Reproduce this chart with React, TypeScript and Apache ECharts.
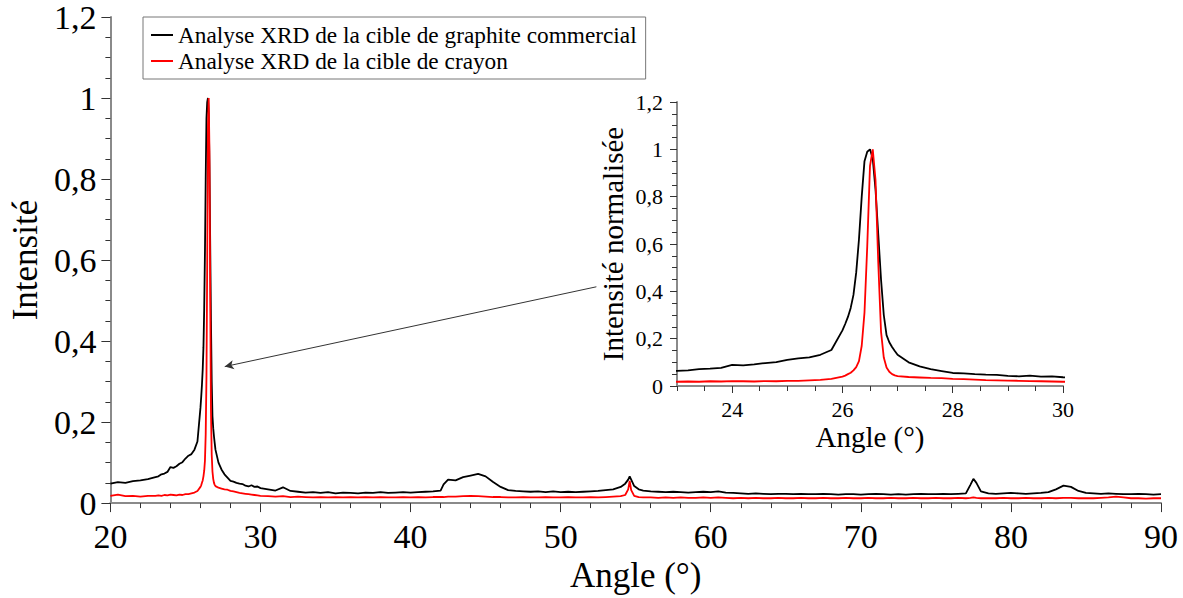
import React, { useEffect, useRef } from "react";
import * as echarts from "echarts";

const FONT = '"Liberation Serif", "Times New Roman", Times, serif';

const seriesNames = [
  "Analyse XRD de la cible de graphite commercial",
  "Analyse XRD de la cible de crayon",
];

const angles = [
  20, 20.5, 21, 21.5, 22, 22.5,
  23, 23.2, 23.4, 23.6, 23.8, 24, 24.2, 24.4, 24.6, 24.8, 25, 25.2, 25.4, 25.6, 25.8,
  26, 26.05, 26.1, 26.15, 26.2, 26.25, 26.3, 26.35, 26.4, 26.45,
  26.5, 26.55, 26.6, 26.65, 26.7, 26.75, 26.8, 26.85, 26.9, 26.95,
  27, 27.2, 27.4, 27.6, 27.8, 28, 28.2, 28.4, 28.6, 28.8, 29, 29.2, 29.4, 29.6, 29.8,
  30, 30.5, 31, 31.5, 32, 32.5, 33, 33.5, 34, 34.5,
  35, 35.5, 36, 36.5, 37, 37.5, 38, 38.5, 39, 39.5,
  40, 40.5, 41, 41.5,
  42, 42.2, 42.5, 43, 43.5, 44, 44.5, 45, 45.5, 46, 46.5, 47, 47.5, 48, 48.5,
  49, 49.5, 50, 50.5, 51, 51.5, 52, 52.5, 53, 53.5,
  54, 54.3, 54.5, 54.6, 54.7, 54.9, 55.2, 55.5,
  56, 56.5, 57, 57.5, 58, 58.5, 59, 59.5, 60, 60.5,
  61, 61.5, 62, 62.5, 63, 63.5, 64, 64.5, 65, 65.5,
  66, 66.5, 67, 67.5, 68, 68.5, 69, 69.5, 70, 70.5,
  71, 71.5, 72, 72.5, 73, 73.5, 74, 74.5, 75, 75.5,
  76, 76.5,
  77, 77.3, 77.5, 77.7,
  78, 78.5, 79, 79.5, 80, 80.5, 81, 81.5, 82, 82.5,
  83, 83.5, 84, 84.5, 85, 85.5, 86, 86.5, 87, 87.5,
  88, 88.5, 89, 89.5, 90,
];

const graphiteIntensity = [
  0.048, 0.052, 0.050, 0.054, 0.056, 0.059,
  0.064, 0.066, 0.071, 0.073, 0.077, 0.089, 0.087, 0.091, 0.097, 0.101, 0.110, 0.117, 0.121, 0.132, 0.152,
  0.235, 0.262, 0.292, 0.330, 0.385, 0.480, 0.620, 0.800, 0.950, 0.990,
  1.000, 0.960, 0.830, 0.640, 0.450, 0.300, 0.215, 0.185, 0.165, 0.148,
  0.132, 0.100, 0.083, 0.071, 0.063, 0.055, 0.053, 0.050, 0.048, 0.047, 0.043, 0.041, 0.044, 0.040, 0.041,
  0.037, 0.034, 0.031, 0.039, 0.030, 0.028, 0.026, 0.027, 0.025, 0.027,
  0.024, 0.026, 0.025, 0.024, 0.026, 0.025, 0.027, 0.025, 0.026, 0.027,
  0.026, 0.027, 0.028, 0.029,
  0.031, 0.046, 0.058, 0.056, 0.064, 0.068, 0.072, 0.066, 0.052, 0.040, 0.032, 0.030, 0.029, 0.028, 0.029,
  0.027, 0.029, 0.027, 0.028, 0.027, 0.028, 0.029, 0.030, 0.032, 0.034,
  0.040, 0.048, 0.058, 0.066, 0.058, 0.042, 0.034, 0.031,
  0.029, 0.028, 0.027, 0.028, 0.027, 0.026, 0.027, 0.028, 0.027, 0.029,
  0.026, 0.025, 0.024, 0.023, 0.024, 0.023, 0.022, 0.023, 0.023, 0.022,
  0.023, 0.022, 0.022, 0.023, 0.022, 0.021, 0.022, 0.022, 0.021, 0.022,
  0.023, 0.022, 0.021, 0.022, 0.021, 0.022, 0.023, 0.022, 0.022, 0.023,
  0.022, 0.023,
  0.024, 0.045, 0.060, 0.050,
  0.029, 0.024, 0.023, 0.024, 0.025, 0.024, 0.023, 0.024, 0.025, 0.027,
  0.034, 0.043, 0.040, 0.030, 0.025, 0.024, 0.023, 0.024, 0.023, 0.022,
  0.022, 0.023, 0.022, 0.021, 0.022,
];

const pencilIntensity = [
  0.018, 0.021, 0.017, 0.018, 0.016, 0.018,
  0.018, 0.019, 0.018, 0.020, 0.019, 0.021, 0.020, 0.019, 0.021, 0.020, 0.022, 0.022, 0.024, 0.026, 0.030,
  0.040, 0.044, 0.050, 0.056, 0.066, 0.080, 0.105, 0.170, 0.310, 0.590,
  0.930, 1.000, 0.870, 0.520, 0.230, 0.120, 0.078, 0.060, 0.050, 0.045,
  0.042, 0.038, 0.036, 0.034, 0.033, 0.030, 0.029, 0.027, 0.025, 0.024, 0.023, 0.022, 0.021, 0.020, 0.019,
  0.018, 0.017, 0.016, 0.017, 0.015, 0.016, 0.015, 0.014, 0.015, 0.014,
  0.015, 0.014, 0.015, 0.014, 0.015, 0.014, 0.015, 0.014, 0.014, 0.015,
  0.014, 0.015, 0.014, 0.015,
  0.015, 0.015, 0.016, 0.016, 0.017, 0.018, 0.017, 0.016, 0.015, 0.015, 0.014, 0.014, 0.015, 0.014, 0.014,
  0.015, 0.014, 0.014, 0.015, 0.014, 0.014, 0.015, 0.014, 0.015, 0.016,
  0.017, 0.020, 0.034, 0.055, 0.032, 0.018, 0.015, 0.014,
  0.014, 0.013, 0.014, 0.013, 0.014, 0.013, 0.013, 0.014, 0.013, 0.014,
  0.013, 0.012, 0.013, 0.012, 0.013, 0.012, 0.012, 0.013, 0.012, 0.012,
  0.013, 0.012, 0.012, 0.013, 0.012, 0.012, 0.013, 0.012, 0.012, 0.013,
  0.012, 0.012, 0.013, 0.012, 0.012, 0.013, 0.012, 0.012, 0.013, 0.012,
  0.012, 0.013,
  0.012, 0.013, 0.014, 0.013,
  0.012, 0.012, 0.012, 0.013, 0.012, 0.012, 0.013, 0.012, 0.012, 0.013,
  0.012, 0.013, 0.013, 0.012, 0.012, 0.012, 0.013, 0.014, 0.016, 0.014,
  0.012, 0.012, 0.011, 0.012, 0.012,
];

const mainXTicks = { min: 20, max: 90, interval: 10 };
const insetXMajor = [24, 26, 28, 30];
const insetXMinor = [23, 23.5, 24.5, 25, 25.5, 26.5, 27, 27.5, 28.5, 29, 29.5];
const yTicks = { min: 0, max: 1.2, interval: 0.2 };

// arrow annotation (data coordinates of main plot)
const arrowFrom = [52.38, 0.534];
const arrowTo = [27.62, 0.337];

const fmtY = (v: number) => String(Number(v.toFixed(1))).replace(".", ",");

export default function App() {
  const ref = useRef<HTMLDivElement>(null);

  useEffect(() => {
    document.body.style.margin = "0";
    const chart = echarts.init(ref.current!, null, { renderer: "svg" });
    const black = angles.map((a, i) => [a, graphiteIntensity[i]]);
    const red = angles.map((a, i) => [a, pencilIntensity[i]]);

    const axisLine = { show: true, onZero: false, lineStyle: { color: "#8a8a8a", width: 2 } };
    const tickStyle = { color: "#333", width: 1 };

    const option: any = {
      animation: false,
      backgroundColor: "#ffffff",
      grid: [
        { left: 104, right: 22, top: 17, bottom: 90 },
        { left: 677, right: 120, top: 102, bottom: 212 },
      ],
      legend: {
        orient: "vertical",
        left: 143,
        top: 17,
        data: seriesNames,
        icon: "rect",
        itemWidth: 22,
        itemHeight: 2,
        itemGap: 0,
        padding: [5, 9, 5, 8],
        borderColor: "#777",
        borderWidth: 1,
        backgroundColor: "#fff",
        textStyle: { fontFamily: FONT, fontSize: 23.3, color: "#000", lineHeight: 26 },
      },
      xAxis: [
        {
          gridIndex: 0,
          type: "value",
          position: "bottom",
          min: mainXTicks.min,
          max: mainXTicks.max,
          interval: mainXTicks.interval,
          name: "Angle (°)",
          nameLocation: "middle",
          nameGap: 50,
          nameTextStyle: { fontFamily: FONT, fontSize: 35, color: "#000" },
          axisLine,
          axisTick: { show: true, length: 9, lineStyle: tickStyle },
          minorTick: { show: true, splitNumber: 5, length: 5, lineStyle: tickStyle },
          axisLabel: { fontFamily: FONT, fontSize: 34, color: "#000", margin: 16 },
          splitLine: { show: false },
        },
        {
          gridIndex: 1,
          type: "value",
          position: "bottom",
          min: 23,
          max: 30,
          name: "Angle (°)",
          nameLocation: "middle",
          nameGap: 36,
          nameTextStyle: { fontFamily: FONT, fontSize: 29, color: "#000" },
          axisLine,
          axisTick: { show: true, length: 7, customValues: insetXMajor, lineStyle: tickStyle },
          axisLabel: { fontFamily: FONT, fontSize: 22, color: "#000", margin: 12, customValues: insetXMajor },
          splitLine: { show: false },
        },
        {
          gridIndex: 1,
          type: "value",
          position: "bottom",
          min: 23,
          max: 30,
          axisLine: { show: false, onZero: false },
          axisTick: { show: true, length: 5, customValues: insetXMinor, lineStyle: tickStyle },
          axisLabel: { show: false },
          splitLine: { show: false },
        },
      ],
      yAxis: [
        {
          gridIndex: 0,
          type: "value",
          min: yTicks.min,
          max: yTicks.max,
          interval: yTicks.interval,
          name: "Intensité",
          nameLocation: "middle",
          nameGap: 62,
          nameTextStyle: { fontFamily: FONT, fontSize: 35, color: "#000" },
          axisLine,
          axisTick: { show: true, length: 9, lineStyle: tickStyle },
          minorTick: { show: true, splitNumber: 4, length: 5, lineStyle: tickStyle },
          axisLabel: { fontFamily: FONT, fontSize: 34, color: "#000", margin: 14, formatter: fmtY },
          splitLine: { show: false },
        },
        {
          gridIndex: 1,
          type: "value",
          min: yTicks.min,
          max: yTicks.max,
          interval: yTicks.interval,
          name: "Intensité normalisée",
          nameLocation: "middle",
          nameGap: 50,
          nameTextStyle: { fontFamily: FONT, fontSize: 29, color: "#000" },
          axisLine,
          axisTick: { show: true, length: 7, lineStyle: tickStyle },
          minorTick: { show: true, splitNumber: 4, length: 5, lineStyle: tickStyle },
          axisLabel: { fontFamily: FONT, fontSize: 22, color: "#000", margin: 14, formatter: fmtY },
          splitLine: { show: false },
        },
      ],
      series: [
        {
          name: seriesNames[0],
          type: "line",
          xAxisIndex: 0,
          yAxisIndex: 0,
          data: black,
          symbol: "none",
          color: "#000",
          lineStyle: { color: "#000", width: 1.8 },
          markLine: {
            silent: true,
            symbol: ["none", "arrow"],
            symbolSize: [7, 9],
            label: { show: false },
            lineStyle: { color: "#333", width: 1, type: "solid" },
            data: [[{ coord: arrowFrom }, { coord: arrowTo }]],
          },
        },
        {
          name: seriesNames[1],
          type: "line",
          xAxisIndex: 0,
          yAxisIndex: 0,
          data: red,
          symbol: "none",
          color: "#ff0000",
          lineStyle: { color: "#ff0000", width: 1.8 },
        },
        {
          name: seriesNames[0],
          type: "line",
          xAxisIndex: 1,
          yAxisIndex: 1,
          data: black,
          symbol: "none",
          color: "#000",
          lineStyle: { color: "#000", width: 1.8 },
        },
        {
          name: seriesNames[1],
          type: "line",
          xAxisIndex: 1,
          yAxisIndex: 1,
          data: red,
          symbol: "none",
          color: "#ff0000",
          lineStyle: { color: "#ff0000", width: 1.8 },
        },
      ],
    };
    chart.setOption(option);
    return () => chart.dispose();
  }, []);

  return (
    <div
      ref={ref}
      style={{ position: "absolute", left: 0, top: 0, width: 1183, height: 598 }}
    />
  );
}
